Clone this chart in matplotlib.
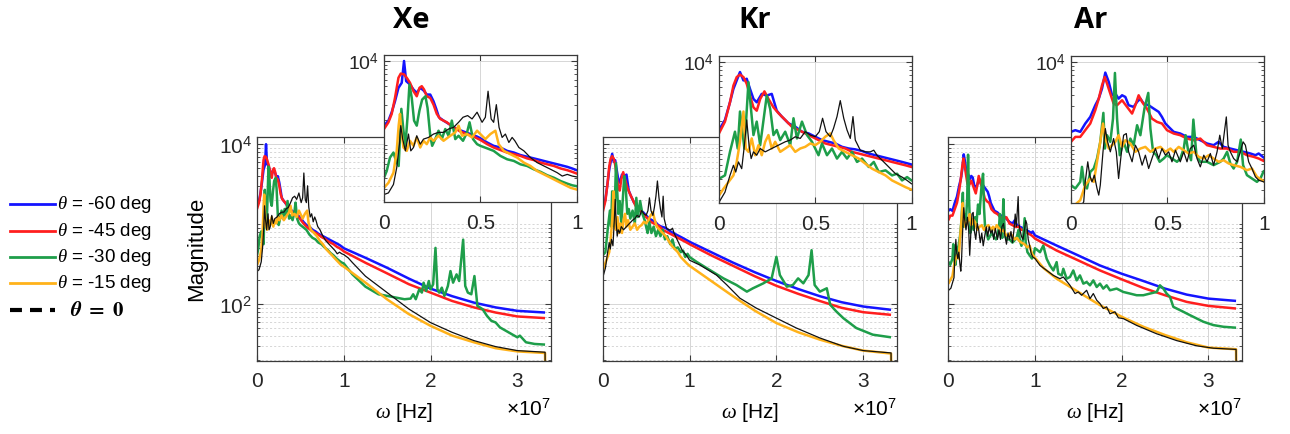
import numpy as np
import matplotlib
matplotlib.use("Agg")
import matplotlib.pyplot as plt
from matplotlib.ticker import FixedLocator, NullFormatter
from matplotlib.lines import Line2D
from matplotlib.font_manager import FontProperties
from matplotlib.mathtext import MathTextParser

plt.rcParams['font.family'] = ['Liberation Sans', 'DejaVu Sans']
plt.rcParams['mathtext.fontset'] = 'custom'
plt.rcParams['mathtext.rm'] = 'Liberation Sans'
plt.rcParams['mathtext.it'] = 'Liberation Serif:italic'
plt.rcParams['mathtext.bf'] = 'Liberation Sans:bold'
plt.rcParams['lines.scale_dashes'] = False

# ---------------- data: (frequency [1e7 Hz], log10 magnitude) ----------------
panel_titles = ['Xe', 'Kr', 'Ar']
legend_labels = [r'$\theta$ = -60 deg', r'$\theta$ = -45 deg',
                 r'$\theta$ = -30 deg', r'$\theta$ = -15 deg']
series_colors = ['#1414ff', '#ff1f1f', '#1e9e4a', '#ffb21a', '#111111']
main_xticklabels = ['0', '1', '2', '3']
inset_xticklabels = ['0', '0.5', '1']

xe_blue = [(0, 3.23), (0.023, 3.29), (0.04, 3.39), (0.057, 3.52), (0.075, 3.68), (0.092, 3.74),
           (0.104, 4.0), (0.115, 3.76), (0.135, 3.72), (0.153, 3.66), (0.17, 3.62), (0.188, 3.68),
           (0.205, 3.65), (0.222, 3.6), (0.24, 3.6), (0.257, 3.52), (0.271, 3.43), (0.285, 3.33),
           (0.309, 3.29), (0.344, 3.24), (0.378, 3.19), (0.413, 3.16), (0.448, 3.13), (0.483, 3.1),
           (0.5, 3.08), (0.535, 3.03), (0.569, 2.99), (0.604, 2.97), (0.639, 2.93), (0.674, 2.91),
           (0.708, 2.88), (0.743, 2.86), (0.778, 2.84), (0.813, 2.82), (0.847, 2.8), (0.882, 2.78),
           (0.917, 2.76), (0.951, 2.74), (0.977, 2.72), (1.0, 2.7), (1.25, 2.58), (1.5, 2.455),
           (1.75, 2.32), (2.0, 2.195), (2.25, 2.1), (2.5, 2.02), (2.75, 1.96), (3.0, 1.917), (3.32, 1.896)]
xe_red = [(0, 3.19), (0.023, 3.27), (0.04, 3.37), (0.057, 3.56), (0.075, 3.8), (0.087, 3.85),
          (0.104, 3.84), (0.118, 3.8), (0.135, 3.74), (0.153, 3.64), (0.17, 3.58), (0.184, 3.68),
          (0.196, 3.7), (0.208, 3.66), (0.222, 3.58), (0.24, 3.56), (0.257, 3.48), (0.274, 3.37),
          (0.292, 3.31), (0.326, 3.27), (0.361, 3.21), (0.396, 3.16), (0.431, 3.13), (0.465, 3.1),
          (0.5, 3.06), (0.535, 3.01), (0.569, 2.97), (0.604, 2.94), (0.639, 2.91), (0.674, 2.89),
          (0.708, 2.87), (0.743, 2.84), (0.778, 2.82), (0.813, 2.79), (0.847, 2.77), (0.882, 2.75),
          (0.917, 2.72), (0.951, 2.7), (0.977, 2.68), (1.0, 2.66), (1.25, 2.518), (1.5, 2.385),
          (1.75, 2.25), (2.0, 2.145), (2.25, 2.04), (2.5, 1.96), (2.75, 1.896), (3.0, 1.847), (3.32, 1.826)]
xe_green = [(0, 2.61), (0.014, 2.69), (0.031, 2.85), (0.049, 2.91), (0.0625, 2.81), (0.076, 2.75),
            (0.083, 3.09), (0.09, 3.43), (0.101, 3.17), (0.111, 2.99), (0.122, 3.33), (0.132, 3.72),
            (0.144, 3.56), (0.156, 3.29), (0.17, 3.23), (0.184, 3.41), (0.198, 3.54), (0.215, 3.58),
            (0.226, 3.44), (0.24, 3.11), (0.25, 2.99), (0.266, 3.07), (0.283, 3.17), (0.3, 3.07),
            (0.318, 3.19), (0.335, 3.11), (0.352, 3.29), (0.37, 3.07), (0.387, 3.11), (0.41, 3.05),
            (0.431, 3.15), (0.444, 3.27), (0.462, 3.07), (0.483, 3.01), (0.5, 2.99), (0.535, 2.96),
            (0.569, 2.93), (0.604, 2.87), (0.639, 2.83), (0.674, 2.81), (0.708, 2.77), (0.743, 2.75),
            (0.778, 2.71), (0.813, 2.68), (0.847, 2.64), (0.882, 2.61), (0.917, 2.57), (0.951, 2.54),
            (0.977, 2.52), (1.0, 2.51), (1.1, 2.373), (1.25, 2.219), (1.4, 2.124), (1.5, 2.104),
            (1.6, 2.083), (1.7, 2.062), (1.77, 2.07), (1.8, 2.124), (1.83, 2.062), (1.87, 2.186),
            (1.9, 2.145), (1.92, 2.269), (1.95, 2.166), (1.98, 2.29), (2.0, 2.186), (2.03, 2.248),
            (2.057, 2.704), (2.08, 2.186), (2.1, 2.145), (2.13, 2.207), (2.16, 2.104), (2.2, 2.228),
            (2.23, 2.414), (2.26, 2.269), (2.3, 2.373), (2.33, 2.29), (2.376, 2.807), (2.4, 2.228),
            (2.43, 2.145), (2.47, 2.124), (2.506, 2.352), (2.54, 1.979), (2.6, 1.938), (2.65, 1.855),
            (2.7, 1.793), (2.75, 1.772), (2.8, 1.71), (2.9, 1.648), (3.0, 1.586), (3.03, 1.607),
            (3.1, 1.524), (3.2, 1.503), (3.32, 1.495)]
xe_orange = [(0, 2.49), (0.023, 2.55), (0.049, 2.67), (0.066, 2.93), (0.076, 3.23), (0.083, 3.37),
             (0.09, 3.17), (0.101, 2.97), (0.118, 2.93), (0.135, 3.05), (0.153, 2.99), (0.17, 3.09),
             (0.188, 2.97), (0.205, 3.05), (0.222, 3.01), (0.24, 3.09), (0.257, 3.05), (0.283, 3.11),
             (0.309, 3.05), (0.344, 3.11), (0.37, 3.15), (0.387, 3.23), (0.405, 3.11), (0.431, 3.13),
             (0.457, 3.09), (0.483, 3.17), (0.5, 3.13), (0.526, 3.07), (0.552, 3.13), (0.578, 3.17),
             (0.595, 3.01), (0.622, 2.93), (0.656, 2.89), (0.691, 2.85), (0.726, 2.79), (0.76, 2.75),
             (0.795, 2.69), (0.83, 2.65), (0.865, 2.61), (0.899, 2.57), (0.934, 2.53), (0.969, 2.49),
             (1.0, 2.47), (1.1, 2.39), (1.25, 2.27), (1.5, 2.06), (1.75, 1.876), (2.0, 1.73),
             (2.25, 1.607), (2.5, 1.524), (2.75, 1.45), (3.0, 1.41), (3.32, 1.39), (3.33, 0.0)]
xe_black = [(0, 2.41), (0.023, 2.43), (0.049, 2.53), (0.066, 2.73), (0.08, 3.01), (0.087, 3.23),
            (0.097, 3.07), (0.111, 2.93), (0.127, 3.13), (0.139, 2.93), (0.153, 2.97), (0.17, 3.11),
            (0.188, 3.01), (0.205, 3.07), (0.231, 3.09), (0.257, 3.13), (0.283, 3.15), (0.309, 3.15),
            (0.335, 3.19), (0.361, 3.21), (0.387, 3.27), (0.41, 3.33), (0.434, 3.35), (0.457, 3.31),
            (0.483, 3.39), (0.509, 3.27), (0.526, 3.33), (0.54, 3.64), (0.556, 3.31), (0.569, 3.27),
            (0.583, 3.48), (0.597, 3.21), (0.613, 3.09), (0.63, 3.13), (0.648, 3.03), (0.665, 3.09),
            (0.679, 3.05), (0.7, 2.97), (0.726, 2.93), (0.76, 2.85), (0.795, 2.79), (0.83, 2.75),
            (0.865, 2.71), (0.899, 2.67), (0.925, 2.63), (0.951, 2.65), (0.977, 2.63), (1.0, 2.62),
            (1.05, 2.58), (1.1, 2.52), (1.25, 2.35), (1.5, 2.145), (1.75, 1.94), (2.0, 1.77),
            (2.25, 1.648), (2.5, 1.545), (2.75, 1.47), (3.0, 1.42), (3.32, 1.4), (3.33, 0.0)]

kr_blue = [(0, 3.19), (0.031, 3.31), (0.057, 3.52), (0.075, 3.68), (0.092, 3.78), (0.109, 3.88),
           (0.127, 3.78), (0.144, 3.8), (0.161, 3.68), (0.179, 3.56), (0.196, 3.52), (0.222, 3.62),
           (0.248, 3.6), (0.274, 3.62), (0.3, 3.42), (0.326, 3.35), (0.361, 3.27), (0.396, 3.23),
           (0.431, 3.17), (0.465, 3.15), (0.5, 3.11), (0.535, 3.07), (0.569, 3.05), (0.604, 3.03),
           (0.639, 2.99), (0.674, 2.97), (0.708, 2.96), (0.743, 2.94), (0.778, 2.91), (0.813, 2.89),
           (0.847, 2.87), (0.882, 2.85), (0.917, 2.83), (0.951, 2.81), (1.0, 2.78), (1.25, 2.65),
           (1.5, 2.52), (1.75, 2.4), (2.0, 2.29), (2.25, 2.19), (2.5, 2.1), (2.75, 2.025),
           (3.0, 1.971), (3.32, 1.93)]
kr_red = [(0, 3.15), (0.031, 3.29), (0.057, 3.52), (0.075, 3.72), (0.092, 3.82), (0.109, 3.85),
          (0.127, 3.82), (0.144, 3.74), (0.161, 3.6), (0.179, 3.46), (0.196, 3.42), (0.214, 3.56),
          (0.236, 3.65), (0.257, 3.56), (0.283, 3.46), (0.309, 3.39), (0.344, 3.31), (0.378, 3.23),
          (0.413, 3.19), (0.448, 3.15), (0.483, 3.11), (0.517, 3.07), (0.552, 3.03), (0.587, 3.01),
          (0.622, 2.99), (0.656, 2.97), (0.691, 2.93), (0.726, 2.91), (0.76, 2.89), (0.795, 2.87),
          (0.83, 2.85), (0.865, 2.83), (0.899, 2.81), (0.934, 2.79), (0.969, 2.77), (1.0, 2.75),
          (1.25, 2.61), (1.5, 2.48), (1.75, 2.35), (2.0, 2.23), (2.25, 2.13), (2.5, 2.04),
          (2.75, 1.955), (3.0, 1.9), (3.32, 1.867)]
kr_green = [(0, 2.61), (0.031, 2.65), (0.057, 2.93), (0.083, 3.17), (0.097, 2.97), (0.109, 3.41),
            (0.132, 2.97), (0.153, 3.76), (0.179, 3.13), (0.196, 3.29), (0.214, 3.01), (0.248, 3.6),
            (0.266, 3.44), (0.283, 3.13), (0.3, 3.19), (0.318, 3.07), (0.344, 3.17), (0.37, 3.01),
            (0.387, 3.33), (0.405, 3.09), (0.431, 3.29), (0.457, 3.13), (0.483, 3.05), (0.5, 2.97),
            (0.517, 2.89), (0.535, 3.03), (0.561, 2.89), (0.587, 2.97), (0.613, 2.85), (0.639, 2.93),
            (0.665, 2.85), (0.691, 2.93), (0.717, 2.81), (0.743, 2.85), (0.778, 2.75), (0.804, 2.81),
            (0.83, 2.69), (0.865, 2.71), (0.899, 2.65), (0.925, 2.67), (0.951, 2.59), (0.977, 2.63),
            (1.0, 2.59), (1.08, 2.53), (1.235, 2.426), (1.39, 2.323), (1.54, 2.24), (1.66, 2.157),
            (1.73, 2.199), (1.85, 2.261), (1.945, 2.323), (2.0, 2.592), (2.04, 2.364), (2.12, 2.219),
            (2.19, 2.24), (2.25, 2.323), (2.31, 2.261), (2.37, 2.364), (2.405, 2.675), (2.44, 2.24),
            (2.5, 2.157), (2.58, 2.199), (2.62, 1.992), (2.69, 1.909), (2.77, 1.826), (2.92, 1.702),
            (3.11, 1.619), (3.32, 1.586)]
kr_orange = [(0, 2.41), (0.023, 2.49), (0.049, 2.57), (0.075, 2.65), (0.092, 2.81), (0.109, 3.05),
             (0.127, 3.41), (0.139, 2.97), (0.153, 2.93), (0.17, 3.09), (0.188, 2.89), (0.205, 3.01),
             (0.222, 2.89), (0.24, 3.05), (0.257, 3.13), (0.274, 2.97), (0.292, 3.05), (0.318, 2.93),
             (0.344, 2.97), (0.37, 3.01), (0.396, 2.93), (0.422, 2.97), (0.448, 2.99), (0.474, 3.03),
             (0.5, 3.01), (0.526, 3.05), (0.552, 3.11), (0.578, 3.15), (0.595, 3.07), (0.622, 2.97),
             (0.656, 2.93), (0.691, 2.89), (0.726, 2.85), (0.76, 2.79), (0.795, 2.73), (0.83, 2.69),
             (0.865, 2.65), (0.899, 2.59), (0.934, 2.55), (0.969, 2.51), (1.0, 2.48), (1.25, 2.29),
             (1.5, 2.1), (1.75, 1.92), (2.0, 1.764), (2.25, 1.65), (2.5, 1.557), (2.75, 1.48),
             (3.0, 1.42), (3.32, 1.383), (3.33, 0.0)]
kr_black = [(0, 2.33), (0.031, 2.45), (0.057, 2.65), (0.075, 2.77), (0.087, 2.69), (0.101, 2.81),
            (0.118, 2.73), (0.132, 3.01), (0.144, 3.31), (0.156, 3.01), (0.167, 2.85), (0.179, 2.93),
            (0.196, 2.89), (0.214, 2.97), (0.24, 2.93), (0.274, 2.97), (0.309, 3.01), (0.344, 3.05),
            (0.37, 3.07), (0.396, 3.11), (0.422, 3.09), (0.448, 3.17), (0.474, 3.13), (0.5, 3.11),
            (0.521, 3.17), (0.538, 3.33), (0.556, 3.17), (0.578, 3.11), (0.595, 3.21), (0.613, 3.35),
            (0.63, 3.54), (0.648, 3.33), (0.665, 3.19), (0.682, 3.09), (0.696, 3.35), (0.708, 3.07),
            (0.734, 2.95), (0.76, 2.93), (0.786, 2.93), (0.804, 2.95), (0.821, 2.89), (0.847, 2.83),
            (0.882, 2.75), (0.917, 2.67), (0.951, 2.63), (0.977, 2.59), (1.0, 2.55), (1.12, 2.489),
            (1.31, 2.364), (1.43, 2.24), (1.58, 2.075), (1.77, 1.95), (2.0, 1.826), (2.23, 1.702),
            (2.5, 1.578), (2.77, 1.474), (3.0, 1.42), (3.32, 1.391), (3.33, 0.0)]

ar_blue = [(0, 3.167), (0.0225, 3.187), (0.048, 3.167), (0.074, 3.266), (0.1, 3.345), (0.126, 3.484),
           (0.144, 3.563), (0.161, 3.683), (0.178, 3.873), (0.196, 3.762), (0.213, 3.603), (0.23, 3.623),
           (0.247, 3.563), (0.265, 3.603), (0.282, 3.583), (0.299, 3.484), (0.325, 3.464), (0.343, 3.524),
           (0.36, 3.563), (0.377, 3.504), (0.403, 3.484), (0.429, 3.444), (0.455, 3.405), (0.472, 3.345),
           (0.49, 3.266), (0.507, 3.226), (0.533, 3.167), (0.567, 3.147), (0.602, 3.107), (0.637, 3.107),
           (0.671, 3.067), (0.706, 3.028), (0.74, 3.008), (0.766, 3.048), (0.792, 2.988), (0.827, 2.968),
           (0.862, 2.948), (0.896, 2.929), (0.931, 2.909), (0.957, 2.889), (0.974, 2.909), (1.0, 2.86),
           (1.25, 2.733), (1.5, 2.609), (1.75, 2.484), (2.0, 2.381), (2.25, 2.29), (2.5, 2.195),
           (2.75, 2.12), (3.0, 2.07), (3.32, 2.041)]
ar_red = [(0, 3.048), (0.0225, 3.107), (0.048, 3.107), (0.074, 3.187), (0.1, 3.266), (0.126, 3.425),
          (0.144, 3.563), (0.161, 3.722), (0.175, 3.821), (0.187, 3.742), (0.201, 3.643), (0.221, 3.504),
          (0.239, 3.484), (0.265, 3.544), (0.291, 3.464), (0.317, 3.385), (0.334, 3.484), (0.351, 3.603),
          (0.369, 3.524), (0.394, 3.444), (0.42, 3.325), (0.446, 3.286), (0.472, 3.266), (0.498, 3.187),
          (0.533, 3.147), (0.567, 3.127), (0.602, 3.087), (0.637, 3.067), (0.671, 3.087), (0.706, 3.008),
          (0.74, 2.988), (0.775, 2.968), (0.81, 2.968), (0.844, 2.929), (0.879, 2.929), (0.913, 2.889),
          (0.948, 2.869), (0.974, 2.849), (1.0, 2.82), (1.25, 2.671), (1.5, 2.547), (1.75, 2.422),
          (2.0, 2.311), (2.25, 2.203), (2.5, 2.112), (2.75, 2.029), (3.0, 1.979), (3.32, 1.946)]
ar_green = [(0, 2.532), (0.0225, 2.492), (0.048, 2.571), (0.057, 2.75), (0.069, 2.532), (0.083, 2.492),
            (0.1, 2.69), (0.118, 2.73), (0.135, 2.849), (0.152, 3.048), (0.168, 3.393), (0.176, 2.968),
            (0.187, 3.127), (0.204, 3.048), (0.218, 3.325), (0.228, 3.869), (0.239, 3.325), (0.253, 2.889),
            (0.273, 3.048), (0.291, 2.929), (0.308, 3.087), (0.325, 3.008), (0.343, 3.246), (0.36, 3.127),
            (0.381, 3.444), (0.401, 3.631), (0.412, 3.206), (0.426, 2.929), (0.443, 2.889), (0.46, 2.81),
            (0.481, 2.849), (0.498, 2.889), (0.524, 2.849), (0.55, 2.81), (0.567, 2.849), (0.585, 2.968),
            (0.595, 3.127), (0.609, 2.929), (0.623, 2.829), (0.635, 3.313), (0.651, 2.889), (0.671, 2.81),
            (0.706, 2.81), (0.74, 2.77), (0.775, 2.81), (0.792, 2.849), (0.81, 2.929), (0.827, 2.79),
            (0.844, 2.73), (0.862, 2.81), (0.881, 3.075), (0.893, 2.77), (0.913, 2.651), (0.939, 2.611),
            (0.965, 2.571), (0.983, 2.611), (1.0, 2.7), (1.058, 2.65), (1.096, 2.733), (1.135, 2.567),
            (1.173, 2.484), (1.212, 2.422), (1.25, 2.526), (1.269, 2.381), (1.308, 2.36), (1.327, 2.443),
            (1.365, 2.319), (1.404, 2.34), (1.442, 2.422), (1.481, 2.298), (1.519, 2.36), (1.558, 2.257),
            (1.596, 2.277), (1.635, 2.236), (1.673, 2.298), (1.712, 2.215), (1.75, 2.257), (1.788, 2.195),
            (1.827, 2.236), (1.865, 2.174), (1.942, 2.195), (2.019, 2.153), (2.096, 2.133), (2.173, 2.112),
            (2.25, 2.112), (2.327, 2.133), (2.404, 2.153), (2.442, 2.236), (2.481, 2.195), (2.519, 2.133),
            (2.558, 2.091), (2.596, 1.967), (2.635, 1.946), (2.712, 1.905), (2.788, 1.863), (2.865, 1.822),
            (2.942, 1.781), (3.058, 1.739), (3.173, 1.718), (3.32, 1.706)]
ar_orange = [(0, 2.254), (0.048, 2.353), (0.074, 2.532), (0.1, 2.611), (0.118, 2.571), (0.135, 2.81),
             (0.152, 3.048), (0.166, 3.266), (0.178, 3.087), (0.196, 2.968), (0.213, 3.008), (0.23, 3.048),
             (0.247, 3.127), (0.265, 2.988), (0.282, 3.067), (0.308, 3.028), (0.334, 2.929), (0.36, 2.968),
             (0.386, 2.988), (0.412, 2.929), (0.438, 2.968), (0.464, 2.988), (0.49, 2.929), (0.516, 2.968),
             (0.533, 2.929), (0.559, 2.988), (0.585, 2.948), (0.611, 2.909), (0.637, 2.929), (0.663, 2.869),
             (0.689, 2.849), (0.715, 2.889), (0.74, 2.849), (0.766, 2.81), (0.792, 2.829), (0.818, 2.79),
             (0.844, 2.77), (0.879, 2.75), (0.913, 2.71), (0.939, 2.73), (0.965, 2.631), (1.0, 2.58),
             (1.1, 2.45), (1.25, 2.319), (1.5, 2.153), (1.75, 1.988), (2.0, 1.843), (2.25, 1.718),
             (2.5, 1.615), (2.75, 1.524), (3.0, 1.458), (3.32, 1.437), (3.33, 0.0)]
ar_black = [(0, 2.17), (0.03, 2.2), (0.066, 2.333), (0.074, 2.57), (0.087, 2.81), (0.097, 2.65),
            (0.109, 2.571), (0.121, 2.651), (0.135, 2.492), (0.144, 2.413), (0.152, 2.532), (0.166, 2.929),
            (0.178, 3.206), (0.19, 3.048), (0.204, 2.929), (0.221, 3.087), (0.235, 2.929), (0.247, 2.611),
            (0.26, 2.889), (0.273, 3.127), (0.287, 3.147), (0.299, 2.929), (0.317, 2.81), (0.334, 3.008),
            (0.351, 2.929), (0.369, 2.77), (0.386, 2.889), (0.403, 2.73), (0.42, 2.849), (0.438, 2.968),
            (0.455, 2.849), (0.472, 2.968), (0.49, 2.889), (0.507, 2.929), (0.524, 2.81), (0.542, 2.948),
            (0.567, 2.81), (0.585, 2.929), (0.602, 2.81), (0.619, 2.968), (0.637, 3.008), (0.654, 2.849),
            (0.671, 2.75), (0.689, 2.889), (0.706, 2.81), (0.723, 2.909), (0.74, 2.77), (0.758, 2.929),
            (0.772, 3.127), (0.785, 2.968), (0.806, 3.345), (0.815, 3.008), (0.827, 2.929), (0.844, 2.849),
            (0.862, 2.81), (0.879, 2.929), (0.893, 3.048), (0.905, 3.008), (0.922, 2.81), (0.939, 2.73),
            (0.957, 2.631), (0.974, 2.591), (1.0, 2.571), (1.058, 2.484), (1.135, 2.422), (1.212, 2.36),
            (1.288, 2.319), (1.327, 2.34), (1.404, 2.236), (1.462, 2.133), (1.5, 2.153), (1.538, 2.112),
            (1.596, 2.174), (1.635, 2.07), (1.673, 2.133), (1.712, 2.05), (1.75, 2.008), (1.788, 1.946),
            (1.827, 1.967), (1.865, 1.88), (1.923, 1.905), (1.962, 1.83), (2.019, 1.82), (2.173, 1.735),
            (2.404, 1.63), (2.635, 1.545), (2.865, 1.48), (3.058, 1.45), (3.32, 1.435), (3.33, 0.0)]

panel_series = [
    [xe_blue, xe_red, xe_green, xe_orange, xe_black],
    [kr_blue, kr_red, kr_green, kr_orange, kr_black],
    [ar_blue, ar_red, ar_green, ar_orange, ar_black],
]

# ---------------- layout (pixels of the 1290x435 canvas) ----------------
W, H = 1290, 435
fig = plt.figure(figsize=(W / 100, H / 100), dpi=100)

def rect(left, top, right, bottom):
    return [left / W, 1 - bottom / H, (right - left) / W, (bottom - top) / H]

main_boxes = [(257, 138, 550.7, 362), (602.7, 138, 896.7, 362), (948.3, 138, 1241.7, 362)]
inset_boxes = [(384, 56, 576.7, 202.7), (719, 57, 911.5, 203.7), (1071, 57, 1263.7, 203.5)]
title_x = [411, 755, 1091]

SPINE = '#3a3a3a'
GRID = '#d6d6d6'
line_widths = [1.8, 1.8, 1.8, 1.8, 0.9]
TICK_FS = 15

def draw_series(ax, series_list):
    for pts, col, lw in zip(series_list, series_colors, line_widths):
        arr = np.array(pts, dtype=float)
        ax.plot(arr[:, 0] * 1e7, 10 ** arr[:, 1], color=col, lw=lw,
                solid_joinstyle='round', solid_capstyle='butt')

def style_box(ax):
    for s in ax.spines.values():
        s.set_color(SPINE)
        s.set_linewidth(0.9)
    ax.tick_params(which='both', direction='in', top=True, right=True,
                   colors=SPINE, labelcolor='#262626')
    ax.tick_params(which='major', length=4.5, width=0.8)
    ax.tick_params(which='minor', length=2.5, width=0.6)

minor_vals = [m * 10.0 ** k for k in range(0, 5) for m in range(2, 10)] + [1e1, 1e3]

for i in range(3):
    ax = fig.add_axes(rect(*main_boxes[i]))
    ax.set_yscale('log')
    draw_series(ax, panel_series[i])
    ax.set_xlim(0, 3.385e7)
    ax.set_ylim(10 ** 1.29, 10 ** 4.09)
    ax.set_xticks([0, 1e7, 2e7, 3e7])
    ax.set_xticklabels(main_xticklabels, fontsize=TICK_FS)
    ax.yaxis.set_major_locator(FixedLocator([1e2, 1e4]))
    ax.yaxis.set_minor_locator(FixedLocator(minor_vals))
    ax.yaxis.set_minor_formatter(NullFormatter())
    if i == 0:
        ax.set_yticklabels([r'$10^{2}$', r'$10^{4}$'], fontsize=TICK_FS)
    else:
        ax.set_yticklabels([])
    ax.set_axisbelow(True)
    ax.grid(which='major', color=GRID, lw=0.7)
    ax.grid(which='minor', axis='y', color=GRID, lw=0.7, ls=(0, (1.5, 1.5)))
    style_box(ax)
    ax.tick_params(axis='x', pad=7)
    ax.text(0.5, -0.225, r'$\omega$ [Hz]', transform=ax.transAxes, ha='center',
            va='center', fontsize=15)
    ax.text(1.0, -0.21, r'$\times10^{7}$', transform=ax.transAxes, ha='right',
            va='center', fontsize=15)

    ins = fig.add_axes(rect(*inset_boxes[i]))
    ins.set_zorder(5)
    ins.set_facecolor('white')
    ins.set_yscale('log')
    draw_series(ins, panel_series[i])
    ins.set_xlim(0, 1e7)
    ins.set_ylim(10 ** 2.325, 10 ** 4.071)
    ins.set_xticks([0, 0.5e7, 1e7])
    ins.set_xticklabels(inset_xticklabels, fontsize=TICK_FS)
    ins.yaxis.set_major_locator(FixedLocator([1e4]))
    ins.yaxis.set_minor_locator(FixedLocator(minor_vals))
    ins.yaxis.set_minor_formatter(NullFormatter())
    ins.set_yticklabels([r'$10^{4}$'], fontsize=TICK_FS - 1)
    ins.set_axisbelow(True)
    ins.grid(which='major', color=GRID, lw=0.7)
    style_box(ins)
    ins.tick_params(axis='x', pad=8)

    fig.text(title_x[i] / W, 1 - 20 / H, panel_titles[i], ha='center', va='center',
             fontsize=21, fontweight='bold', family=['Open Sans', 'DejaVu Sans'])

fig.text(197 / W, 1 - 249 / H, 'Magnitude', rotation=90, ha='center', va='center',
         fontsize=16)

# ---------------- legend ----------------
legend_y = [205, 232, 258, 284]
for lab, col, yy in zip(legend_labels, series_colors[:4], legend_y):
    fig.add_artist(Line2D([10 / W, 55 / W], [1 - yy / H] * 2, color=col, lw=2.0,
                          transform=fig.transFigure))
    fig.text(57 / W, 1 - yy / H, lab, ha='left', va='center', fontsize=13.5)

fig.add_artist(Line2D([10 / W, 55 / W], [1 - 311 / H] * 2, color='black', lw=3.0,
                      dashes=(8.6, 5.8, 8.6, 5.8, 3.6, 20), solid_capstyle='butt',
                      dash_capstyle='butt', transform=fig.transFigure))
zero_label = r'$\boldsymbol{\theta}\ \mathbf{=}\ \mathbf{0}$'
try:
    MathTextParser('path').parse(zero_label, prop=FontProperties(math_fontfamily='stix'))
except Exception:
    zero_label = r'$\mathbf{\theta\ =\ 0}$'
fig.text(70 / W, 1 - 311 / H, zero_label, ha='left', va='center', fontsize=15,
         math_fontfamily='stix')

fig.savefig('out.png', dpi=100)
